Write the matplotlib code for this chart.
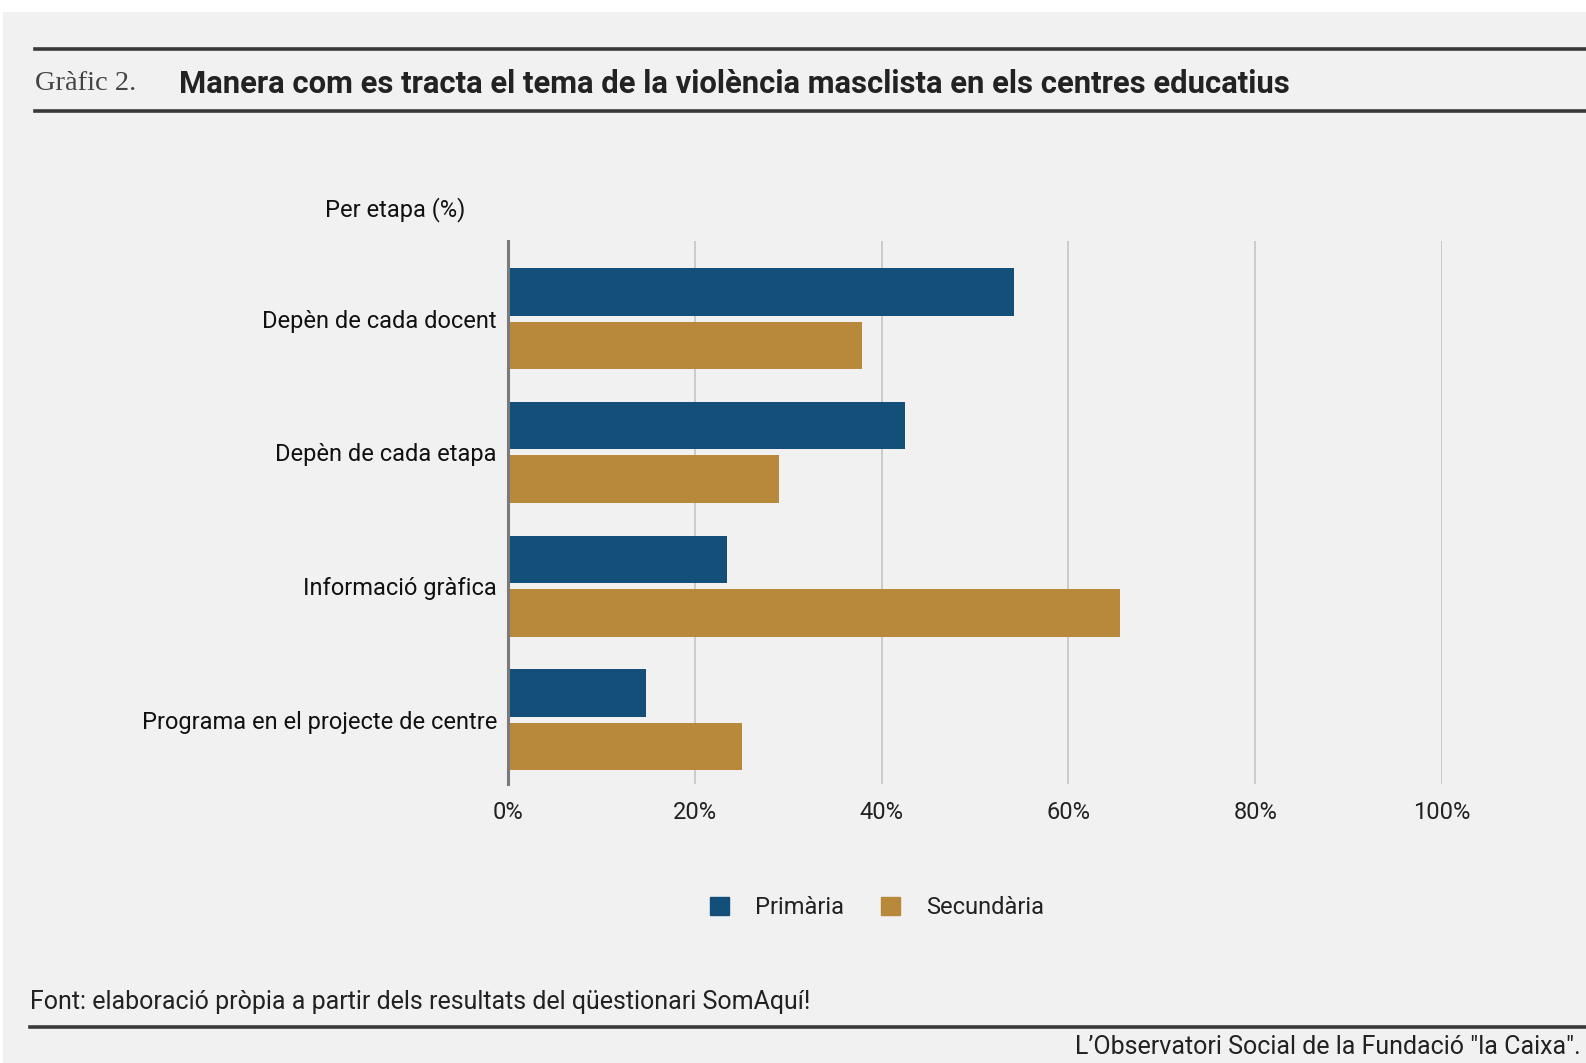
import matplotlib.pyplot as plt
from matplotlib.lines import Line2D
from matplotlib.patches import Rectangle, Patch
import numpy as np

# data
categories = ['Depèn de cada docent', 'Depèn de cada etapa',
              'Informació gràfica', 'Programa en el projecte de centre']
primaria = [54.2, 42.5, 23.4, 14.8]
secundaria = [37.9, 29.0, 65.5, 25.1]
ticks = [0, 20, 40, 60, 80, 100]
tick_labels = ['0%', '20%', '40%', '60%', '80%', '100%']

blue = '#134f78'
gold = '#b8893b'
bg = '#f1f1f1'

plt.rcParams['font.family'] = ['Roboto', 'DejaVu Sans']

W, H = 1586, 1063
fig = plt.figure(figsize=(W / 100, H / 100), dpi=100, facecolor='white')
# grey panel
fig.add_artist(Rectangle((3 / W, 0), 1 - 3 / W, 1 - 12 / H, transform=fig.transFigure,
                         facecolor=bg, edgecolor='none', zorder=0))

ax = fig.add_axes([508 / W, 1 - 784 / H, 934 / W, 543 / H])
ax.patch.set_alpha(0)

y = np.arange(len(categories))
h = 0.356
ax.barh(y - 0.2, primaria, height=h, color=blue, label='Primària', zorder=3)
ax.barh(y + 0.2, secundaria, height=h, color=gold, label='Secundària', zorder=3)

ax.set_xlim(0, 100)
ax.set_ylim(3.48, -0.58)
ax.set_xticks(ticks)
ax.set_xticklabels(tick_labels, fontsize=17, color='#222222')
ax.set_yticks(y)
ax.set_yticklabels(categories, fontsize=17, color='#111111')
ax.tick_params(axis='both', length=0)
ax.tick_params(axis='x', pad=12)
ax.tick_params(axis='y', pad=8)
ax.grid(axis='x', color='#c4c4c4', linewidth=1.2, zorder=0)
for s in ['top', 'right', 'bottom']:
    ax.spines[s].set_visible(False)
ax.spines['left'].set_color('#7a7a7a')
ax.spines['left'].set_linewidth(2.2)
ax.spines['left'].set_zorder(4)

# title block
fig.add_artist(Line2D([35 / W, 1], [1 - 49 / H] * 2, transform=fig.transFigure,
                      color='#3a3a3a', linewidth=2.6))
fig.add_artist(Line2D([35 / W, 1], [1 - 111 / H] * 2, transform=fig.transFigure,
                      color='#3a3a3a', linewidth=2.6))
fig.text(35 / W, 1 - 84 / H, 'Gràfic 2.', fontsize=20.5, family=['Liberation Serif', 'DejaVu Serif'],
         color='#444444', va='center')
fig.text(179 / W, 1 - 84 / H, 'Manera com es tracta el tema de la violència masclista en els centres educatius',
         fontsize=22.3, fontweight='bold', color='#222222', va='center')

fig.text(325 / W, 1 - 210 / H, 'Per etapa (%)', fontsize=17, color='#111111', va='center')

# legend
leg = fig.legend(handles=[Patch(color=blue, label='Primària'), Patch(color=gold, label='Secundària')],
                 loc='center', bbox_to_anchor=(877 / W, 1 - 908 / H), ncol=2, frameon=False,
                 fontsize=17, handlelength=0.8, handleheight=0.8, columnspacing=1.6,
                 handletextpad=1.1)
for t in leg.get_texts():
    t.set_color('#222222')

# footer
fig.text(30 / W, 1 - 1002 / H, 'Font: elaboració pròpia a partir dels resultats del qüestionari SomAquí!',
         fontsize=18, color='#222222', va='center')
fig.add_artist(Line2D([30 / W, 1], [1 - 1027 / H] * 2, transform=fig.transFigure,
                      color='#3a3a3a', linewidth=2.6))
fig.text(1581 / W, 1 - 1047 / H, 'L’Observatori Social de la Fundació "la Caixa".',
         fontsize=18, color='#222222', va='center', ha='right')

fig.savefig('out.png', dpi=100, facecolor=fig.get_facecolor())
